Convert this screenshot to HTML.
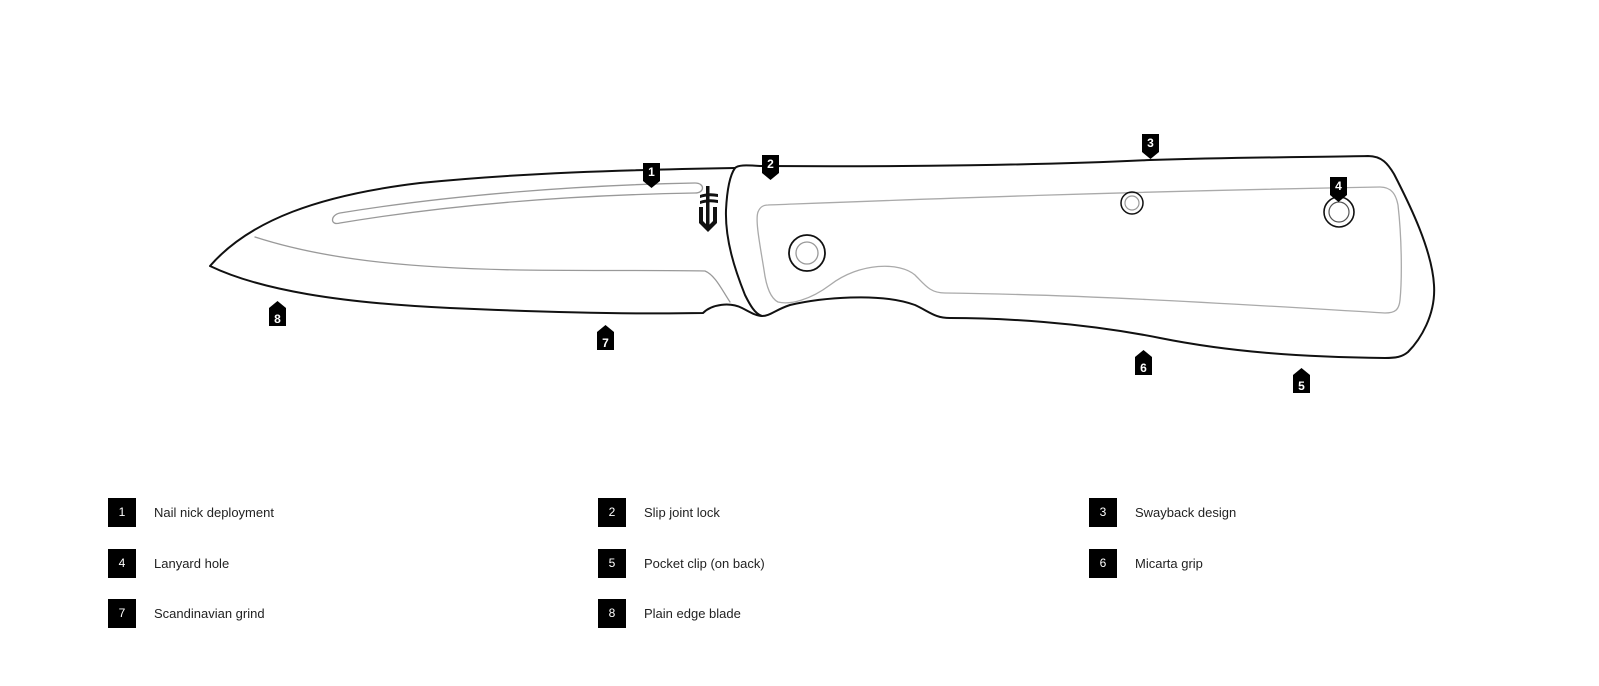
<!DOCTYPE html>
<html style="margin:0;padding:0;width:1599px;height:686px;overflow:hidden"><head><meta charset="utf-8"><style>
html,body{margin:0;padding:0;width:1599px;height:686px;overflow:hidden;background:#fff}
body{font-family:"Liberation Sans",sans-serif}
#wrap{position:relative;width:1599px;height:686px;overflow:hidden}
#wrap svg{position:absolute;left:0;top:0;display:block}
.lg{position:absolute;display:flex;align-items:center;white-space:nowrap}
.lg b{display:inline-block;width:28px;height:29px;background:#000;color:#fff;font-size:12px;font-weight:normal;text-align:center;line-height:29px}
.lg span{margin-left:18px;font-size:13px;color:#222}
</style></head><body><div id="wrap">
<svg width="1599" height="686" viewBox="0 0 1599 686">
<g fill="none" stroke-linecap="round" stroke-linejoin="round">
<path d="M210,266 C250,220 320,195 420,183 C520,173 620,170 735,168 M210,266 C260,290 340,303 450,308 C560,313 650,314 703,313 C712,304 730,302 742,308 C750,312 756,316 762,316" stroke="#111" stroke-width="2"/>
<path d="M255,237 C320,258 400,268 520,270 C600,271 660,270 705,271 C715,275 722,290 730,302" stroke="#999" stroke-width="1.3"/>
<path d="M340,213 C450,195 580,185 695,183 C705,183 705,193 695,193 C580,195 460,203 340,223 C330,226 330,215 340,213 Z" stroke="#999" stroke-width="1.3"/>
<path d="M735,168 C738,165 745,165 760,166 C900,167 1050,165 1150,160 C1250,157 1330,157 1368,156 C1382,156 1388,164 1394,174 C1410,205 1432,250 1434,285 C1436,315 1420,340 1408,352 C1402,357 1396,358 1385,358 C1300,357 1230,352 1160,338 C1080,322 1000,318 950,318 C935,318 930,312 915,305 C880,292 820,298 790,305 C775,310 770,316 762,316 C755,314 750,305 745,295 C735,270 725,240 726,210 C727,190 730,175 735,168 Z" stroke="#111" stroke-width="2"/>
<path d="M768,205 C900,200 1100,192 1380,187 C1392,187 1396,195 1398,205 C1402,240 1402,280 1400,300 C1399,310 1395,313 1385,313 C1250,305 1100,295 945,293 C930,293 925,285 915,275 C900,262 860,262 830,285 C810,300 790,305 778,302 C770,298 766,285 764,270 C760,245 755,220 758,212 C760,207 763,205 768,205 Z" stroke="#aaa" stroke-width="1.3"/>
<circle cx="807" cy="253" r="18" stroke="#111" stroke-width="1.8"/>
<circle cx="807" cy="253" r="11" stroke="#999" stroke-width="1.3"/>
<circle cx="1132" cy="203" r="11" stroke="#111" stroke-width="1.5"/>
<circle cx="1132" cy="203" r="7" stroke="#999" stroke-width="1.2"/>
<circle cx="1339" cy="212" r="15" stroke="#111" stroke-width="1.6"/>
<circle cx="1339" cy="212" r="10" stroke="#555" stroke-width="1.2"/>
</g>
<g fill="#111">
<rect x="706" y="186" width="3.5" height="40"/>
<path d="M700,195 q8,-3 18,-1 v3 q-10,-2 -18,1Z"/>
<path d="M700,201 q8,-3 18,-1 v3 q-10,-2 -18,1Z"/>
<path d="M699,207 h4 v14 l5,5 l5,-5 v-14 h4 v16 l-9,9 l-9,-9 Z"/>
</g>
<g fill="#000" font-size="12" font-weight="bold" text-anchor="middle" font-family="Liberation Sans,sans-serif">
<path d="M643,163 h17 v18 l-8.5,7 l-8.5,-7Z"/>
<path d="M762,155 h17 v18 l-8.5,7 l-8.5,-7Z"/>
<path d="M1142,134 h17 v18 l-8.5,7 l-8.5,-7Z"/>
<path d="M1330,177 h17 v18 l-8.5,7 l-8.5,-7Z"/>
<path d="M269,326 h17 v-18 l-8.5,-7 l-8.5,7Z"/>
<path d="M597,350 h17 v-18 l-8.5,-7 l-8.5,7Z"/>
<path d="M1135,375 h17 v-18 l-8.5,-7 l-8.5,7Z"/>
<path d="M1293,393 h17 v-18 l-8.5,-7 l-8.5,7Z"/>
<g fill="#fff">
<text x="651.5" y="176">1</text><text x="770.5" y="168">2</text><text x="1150.5" y="147">3</text><text x="1338.5" y="190">4</text>
<text x="277.5" y="323">8</text><text x="605.5" y="347">7</text><text x="1143.5" y="372">6</text><text x="1301.5" y="390">5</text>
</g></g>
</svg>
<div class="lg" style="left:108px;top:498px"><b>1</b><span>Nail nick deployment</span></div>
<div class="lg" style="left:598px;top:498px"><b>2</b><span>Slip joint lock</span></div>
<div class="lg" style="left:1089px;top:498px"><b>3</b><span>Swayback design</span></div>
<div class="lg" style="left:108px;top:549px"><b>4</b><span>Lanyard hole</span></div>
<div class="lg" style="left:598px;top:549px"><b>5</b><span>Pocket clip (on back)</span></div>
<div class="lg" style="left:1089px;top:549px"><b>6</b><span>Micarta grip</span></div>
<div class="lg" style="left:108px;top:599px"><b>7</b><span>Scandinavian grind</span></div>
<div class="lg" style="left:598px;top:599px"><b>8</b><span>Plain edge blade</span></div>
</div></body></html>
